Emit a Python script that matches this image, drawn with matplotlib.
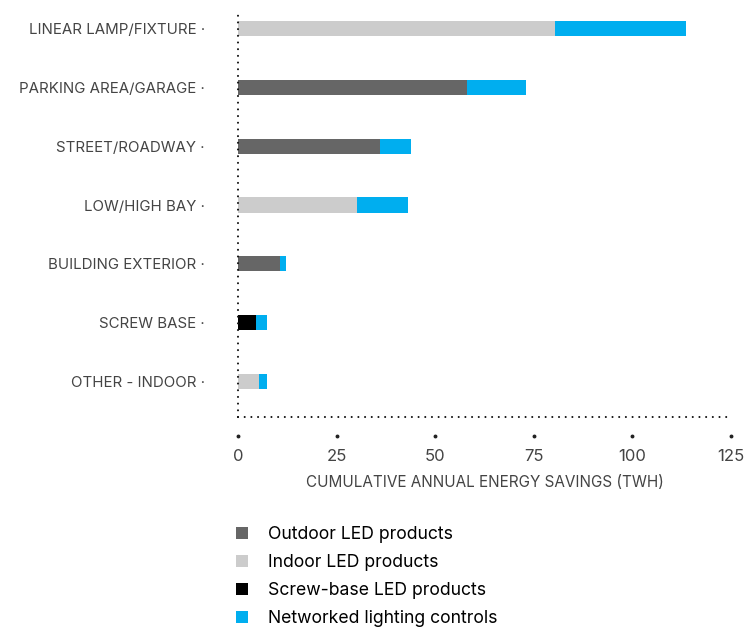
import matplotlib.pyplot as plt
import matplotlib.transforms as mtransforms
from matplotlib.patches import Patch
import numpy as np

plt.rcParams.update({
    "font.family": ["Inter", "DejaVu Sans"],
    "font.size": 10,
})

# ---- data ---------------------------------------------------------------
categories = ["LINEAR LAMP/FIXTURE", "PARKING AREA/GARAGE", "STREET/ROADWAY",
              "LOW/HIGH BAY", "BUILDING EXTERIOR", "SCREW BASE", "OTHER - INDOOR"]
outdoor  = [0.0, 58.1, 36.0, 0.0, 10.6, 0.0, 0.0]
indoor   = [80.4, 0.0, 0.0, 30.2, 0.0, 0.0, 5.3]
screw    = [0.0, 0.0, 0.0, 0.0, 0.0, 4.6, 0.0]
controls = [33.2, 14.9, 7.9, 12.9, 1.6, 2.8, 2.0]
xticks   = [0, 25, 50, 75, 100, 125]

series = [("Outdoor LED products", outdoor, "#666666"),
          ("Indoor LED products", indoor, "#cccccc"),
          ("Screw-base LED products", screw, "#000000"),
          ("Networked lighting controls", controls, "#00aeef")]

# ---- figure -------------------------------------------------------------
fig = plt.figure(figsize=(7.5, 6.28), dpi=100)
ax = fig.add_axes([0.3173, 0.336, 0.6573, 0.648])

ypos = np.arange(len(categories))
left = np.zeros(len(categories))
for name, vals, col in series:
    vals = np.array(vals)
    ax.barh(ypos, vals, left=left, height=0.26, color=col, linewidth=0)
    left += vals

ax.set_ylim(6.61, -0.32)
ax.set_xlim(0, 125)

# dotted axes
for s in ["top", "right"]:
    ax.spines[s].set_visible(False)
for s in ["left", "bottom"]:
    ax.spines[s].set_linestyle((0, (0.01, 3.2)))
    ax.spines[s].set_linewidth(1.5)
    ax.spines[s].set_capstyle("round")
    ax.spines[s].set_color("#111111")

ax.set_yticks(ypos)
ax.set_yticklabels([c + " ·" for c in categories], fontsize=10.8, color="#444444")
ax.tick_params(axis="y", length=0, pad=24)
ax.set_xticks(xticks)
ax.set_xticklabels([str(t) for t in xticks], fontsize=12, color="#444444")
ax.tick_params(axis="x", length=0, pad=23)

# tick dots below x axis
trans = mtransforms.blended_transform_factory(ax.transData, ax.transAxes)
ax.plot(xticks, [-0.047] * len(xticks), ls="none", marker="o", ms=1.8,
        color="#222222", transform=trans, clip_on=False)

ax.set_xlabel("CUMULATIVE ANNUAL ENERGY SAVINGS (TWH)", fontsize=11,
              color="#444444", labelpad=8)

# ---- legend -------------------------------------------------------------
handles = [Patch(facecolor=col, edgecolor="none", label=name)
           for name, _, col in series]
fig.legend(handles=handles, loc="upper left", bbox_to_anchor=(0.303, 0.176),
           frameon=False, fontsize=12.7, handlelength=0.7, handleheight=0.7,
           handletextpad=1.1, labelspacing=0.62, borderpad=0)

fig.savefig("out.png", dpi=100)
